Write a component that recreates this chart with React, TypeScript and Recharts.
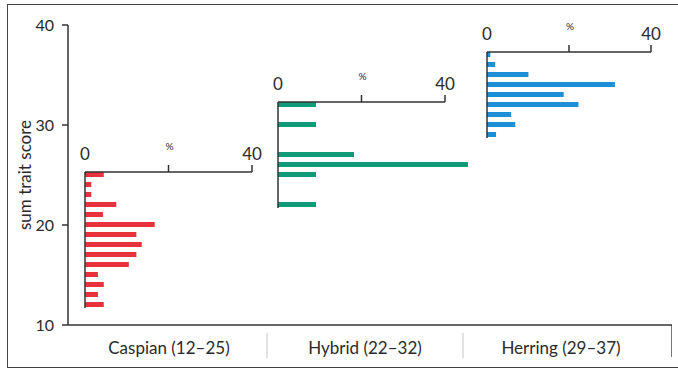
import React from 'react';
import { ComposedChart, BarChart, Bar, XAxis, YAxis, ReferenceLine } from 'recharts';

// Category labels along the bottom
const groups = ['Caspian (12–25)', 'Hybrid (22–32)', 'Herring (29–37)'];

// Main score axis
const scoreTicks = [10, 20, 30, 40];

// Percentage axis ticks of each histogram (20 carries the "%" caption)
const pctTicks = [0, 20, 40];

// Caspian histogram: sum trait score -> % of fish
const caspianScores = [25, 24, 23, 22, 21, 20, 19, 18, 17, 16, 15, 14, 13, 12];
const caspianPct = [4.5, 1.5, 1.5, 7.5, 4.3, 16.7, 12.3, 13.6, 12.3, 10.5, 3.1, 4.5, 3.1, 4.5];

// Hybrid histogram
const hybridScores = [32, 31, 30, 29, 28, 27, 26, 25, 24, 23, 22];
const hybridPct = [9.1, 0, 9.1, 0, 0, 18.2, 45.5, 9.1, 0, 0, 9.1];

// Herring histogram
const herringScores = [37, 36, 35, 34, 33, 32, 31, 30, 29];
const herringPct = [0.8, 2.0, 10.1, 31.2, 18.7, 22.3, 5.9, 6.9, 2.2];

const W = 678;
const H = 371;
const FONT = 'Lato, "Open Sans", sans-serif';
const INK = '#2a2a2a';
const AXIS = '#333';

// main plot geometry
const PLOT_LEFT = 68;
const PLOT_TOP = 25;
const PLOT_RIGHT = 672;
const PLOT_BOTTOM = 325;
const SCORE_MIN = 10;
const SCORE_MAX = 40;
const PX_PER_SCORE = (PLOT_BOTTOM - PLOT_TOP) / (SCORE_MAX - SCORE_MIN);
const X_AXIS_H = 30;

const groupData = groups.map((g) => ({ group: g }));

const GroupTick = (props: any) => {
  const { x, y, payload, index } = props;
  const half = payload && typeof payload.offset === 'number' && payload.offset > 0 ? payload.offset : 98;
  return (
    <g>
      {index > 0 && (
        <line x1={x - half} x2={x - half} y1={y + 8} y2={y + 33} stroke="#d9d9d9" strokeWidth={1.5} />
      )}
      <text x={x} y={y + 29} textAnchor="middle" fontSize={17} fill={INK} fontFamily={FONT}>
        {payload.value}
      </text>
    </g>
  );
};

const PctTick = (props: any) => {
  const { x, y, payload } = props;
  const v = payload.value;
  return (
    <g>
      {v !== 0 && <line x1={x} x2={x} y1={y} y2={y - 7} stroke={AXIS} strokeWidth={1.5} />}
      {v === 20 ? (
        <text x={x + 1} y={y - 22} textAnchor="middle" fontSize={10} fill={INK} fontFamily={FONT}>
          %
        </text>
      ) : (
        <text x={x} y={y - 12} textAnchor="middle" fontSize={17} fill={INK} fontFamily={FONT}>
          {v}
        </text>
      )}
    </g>
  );
};

type HistProps = {
  scores: number[];
  pct: number[];
  color: string;
  originX: number;
  span40: number;
};

const Histogram = ({ scores, pct, color, originX, span40 }: HistProps) => {
  const data = scores.map((s, i) => ({ score: s, pct: pct[i] }));
  const top = Math.max(...scores) + 0.3;
  const bottom = Math.min(...scores) - 0.3;
  const pxPerPct = span40 / 40;
  const plotWidth = 50 * pxPerPct;
  const plotTop = PLOT_TOP + (SCORE_MAX - top) * PX_PER_SCORE;
  return (
    <div style={{ position: 'absolute', left: 0, top: 0 }}>
      <BarChart
        width={W}
        height={H}
        layout="vertical"
        data={data}
        margin={{
          top: plotTop - X_AXIS_H,
          bottom: H - PLOT_BOTTOM,
          left: originX,
          right: W - originX - plotWidth,
        }}
      >
        <XAxis
          xAxisId={0}
          type="number"
          orientation="top"
          domain={[0, 50]}
          ticks={pctTicks}
          height={X_AXIS_H}
          axisLine={false}
          tickLine={false}
          tickSize={0}
          tickMargin={0}
          tick={<PctTick />}
          interval={0}
        />
        <YAxis
          yAxisId={0}
          type="number"
          dataKey="score"
          domain={[SCORE_MIN, top]}
          allowDataOverflow
          reversed
          hide
        />
        <ReferenceLine
          xAxisId={0}
          yAxisId={0}
          segment={[
            { x: 0, y: top },
            { x: 40, y: top },
          ]}
          stroke={AXIS}
          strokeWidth={1.5}
        />
        <ReferenceLine
          xAxisId={0}
          yAxisId={0}
          segment={[
            { x: 0, y: bottom },
            { x: 0, y: top },
          ]}
          stroke={AXIS}
          strokeWidth={1.5}
        />
        <Bar xAxisId={0} yAxisId={0} dataKey="pct" fill={color} barSize={5} isAnimationActive={false} />
      </BarChart>
    </div>
  );
};

export default function App() {
  return (
    <div
      style={{
        position: 'absolute',
        left: 0,
        top: 0,
        width: W,
        height: H,
        background: '#fff',
        fontFamily: FONT,
        overflow: 'hidden',
      }}
    >
      {/* outer frame: open on the right */}
      <div
        style={{
          position: 'absolute',
          left: 7,
          top: 4,
          width: W - 7,
          height: 364,
          boxSizing: 'border-box',
          borderTop: '1.5px solid #444',
          borderLeft: '1.5px solid #444',
          borderBottom: '1.5px solid #444',
        }}
      />
      {/* right edge of the label strip */}
      <div
        style={{
          position: 'absolute',
          left: PLOT_RIGHT - 1,
          top: PLOT_BOTTOM,
          width: 0,
          height: 32,
          borderLeft: '1.5px solid #777',
        }}
      />
      <div style={{ position: 'absolute', left: 0, top: 0 }}>
        <ComposedChart
          width={W}
          height={H}
          data={groupData}
          margin={{ top: PLOT_TOP, right: W - PLOT_RIGHT, bottom: H - PLOT_BOTTOM - X_AXIS_H, left: 8 }}
        >
          <XAxis
            dataKey="group"
            type="category"
            scale="band"
            height={X_AXIS_H}
            axisLine={{ stroke: AXIS, strokeWidth: 1.5 }}
            tickLine={false}
            tickSize={0}
            tickMargin={0}
            interval={0}
            padding={{ left: 3, right: 13 }}
            tick={<GroupTick />}
          />
          <YAxis
            type="number"
            domain={[SCORE_MIN, SCORE_MAX]}
            allowDataOverflow
            ticks={scoreTicks}
            width={PLOT_LEFT - 8}
            axisLine={{ stroke: AXIS, strokeWidth: 1.5 }}
            tickLine={{ stroke: AXIS, strokeWidth: 1.5 }}
            tickSize={6}
            tickMargin={8}
            tick={{ fontSize: 16, fill: INK, fontFamily: FONT }}
            label={{
              value: 'sum trait score',
              angle: -90,
              position: 'center',
              dx: -13,
              style: { fontSize: 17, fill: INK, fontFamily: FONT },
            }}
          />
        </ComposedChart>
      </div>
      <Histogram scores={caspianScores} pct={caspianPct} color="#e8333d" originX={85} span40={167} />
      <Histogram scores={hybridScores} pct={hybridPct} color="#0f9a78" originX={278} span40={167} />
      <Histogram scores={herringScores} pct={herringPct} color="#1c8fd6" originX={487} span40={164} />
    </div>
  );
}
